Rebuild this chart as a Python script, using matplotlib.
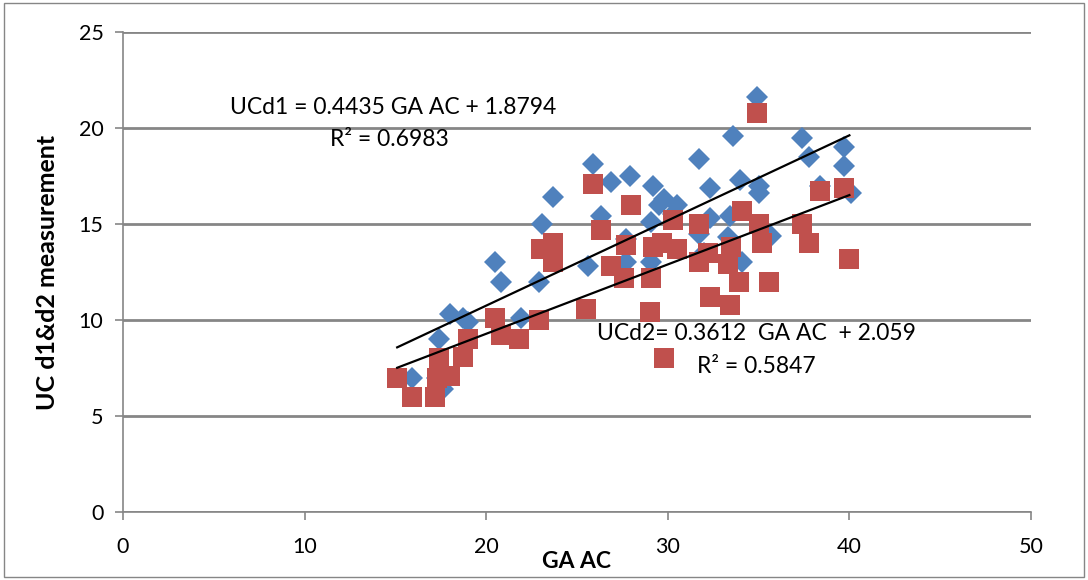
import matplotlib.pyplot as plt
import numpy as np

# data
ga_ac_d1 = [15.9, 17.3, 17.6, 17.4, 18.0, 18.7, 19.0, 20.5, 20.8, 21.9, 22.9, 23.1,
            23.7, 25.6, 25.9, 26.3, 26.9, 27.9, 27.7, 27.7, 29.2, 29.1, 29.1, 29.5,
            29.8, 30.5, 31.7, 32.3, 32.3, 31.7, 33.4, 33.3, 33.6, 34.0, 34.1, 34.9,
            35.0, 35.0, 35.7, 37.4, 37.8, 38.4, 39.7, 39.7, 40.1, 30.3, 32.0]
uc_d1 = [7.0, 7.0, 6.4, 9.0, 10.3, 10.1, 9.9, 13.0, 12.0, 10.1, 12.0, 15.0,
         16.4, 12.8, 18.1, 15.4, 17.2, 17.5, 14.2, 13.0, 17.0, 15.1, 13.0, 16.0,
         16.3, 16.0, 18.4, 16.9, 15.3, 14.5, 15.4, 14.3, 19.6, 17.3, 13.0, 21.6,
         17.0, 16.6, 14.4, 19.5, 18.5, 17.0, 19.0, 18.0, 16.6, 15.5, 13.5]

ga_ac_d2 = [15.1, 15.9, 17.2, 17.4, 17.5, 18.0, 17.3, 18.7, 19.0, 20.5, 20.8, 21.8,
            22.9, 23.0, 23.7, 23.7, 25.5, 25.9, 26.3, 26.9, 27.6, 27.7, 28.0, 29.0,
            29.1, 29.2, 29.7, 29.8, 30.3, 30.5, 31.7, 31.7, 32.2, 32.3, 33.3, 33.5,
            33.4, 33.9, 34.1, 34.9, 35.0, 35.2, 35.6, 37.4, 37.8, 38.4, 39.7, 40.0]
uc_d2 = [7.0, 6.0, 6.0, 8.0, 7.1, 7.1, 7.0, 8.1, 9.0, 10.1, 9.2, 9.0,
         10.0, 13.7, 14.0, 13.0, 10.6, 17.1, 14.7, 12.8, 12.2, 13.9, 16.0, 10.4,
         12.2, 13.8, 14.0, 8.0, 15.2, 13.7, 15.0, 13.0, 13.5, 11.2, 12.9, 13.8,
         10.8, 12.0, 15.7, 20.8, 15.0, 14.0, 12.0, 15.0, 14.0, 16.7, 16.9, 13.2]

# trendline coefficients as printed on the chart
slope1, inter1 = 0.4435, 1.8794
slope2, inter2 = 0.3612, 2.059

blue = '#4F81BD'
red = '#C0504D'
grid = '#868686'

fig = plt.figure(figsize=(10.88, 5.80), dpi=100)
plt.rcParams['font.family'] = ['Lato', 'DejaVu Sans']
ax = fig.add_axes([0.113, 0.1172, 0.8346, 0.8276])

ax.plot(ga_ac_d1, uc_d1, 'D', color=blue, markersize=11, markeredgewidth=0, zorder=3)
ax.plot(ga_ac_d2, uc_d2, 's', color=red, markersize=14, markeredgewidth=0, zorder=3)

xa = np.array([min(ga_ac_d2), max(ga_ac_d2)])
ax.plot(xa, slope1 * xa + inter1, color='black', lw=1.6, zorder=4)
ax.plot(xa, slope2 * xa + inter2, color='black', lw=1.6, zorder=4)

ax.text(5.9, 21.05, 'UCd1 = 0.4435 GA AC + 1.8794', fontsize=16.5, va='center')
ax.text(11.4, 19.4, 'R² = 0.6983', fontsize=16.5, va='center')
ax.text(26.1, 9.3, 'UCd2= 0.3612  GA AC  + 2.059', fontsize=16.5, va='center')
ax.text(31.6, 7.6, 'R² = 0.5847', fontsize=16.5, va='center')

ax.set_xlim(0, 50)
ax.set_ylim(0, 25)
ax.set_xticks(range(0, 51, 10))
ax.set_yticks(range(0, 26, 5))
ax.yaxis.grid(True, color=grid, lw=2)
ax.set_axisbelow(True)
for s in ['top', 'right']:
    ax.spines[s].set_visible(False)
for s in ['left', 'bottom']:
    ax.spines[s].set_color(grid)
    ax.spines[s].set_linewidth(1.2)
ax.tick_params(axis='both', colors=grid, labelcolor='black', labelsize=15.5, length=6, width=1.2)
ax.tick_params(axis='x', pad=12)
ax.tick_params(axis='y', pad=8)

ax.set_xlabel('GA AC', fontsize=16.5, fontweight='bold', labelpad=-4)
ax.set_ylabel('UC d1&d2 measurement', fontsize=18, fontweight='bold', labelpad=14)

# chart border
fig.patches.append(plt.Rectangle((0.004, 0.006), 0.992, 0.988, transform=fig.transFigure,
                                 fill=False, edgecolor=grid, lw=1))

fig.savefig('out.png', dpi=100)
